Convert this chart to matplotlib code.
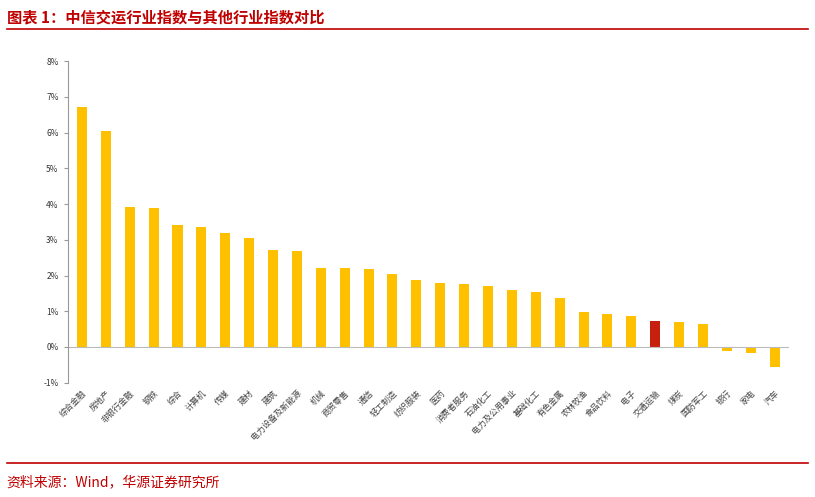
import matplotlib
matplotlib.use("Agg")
import matplotlib.pyplot as plt
from matplotlib.ticker import FuncFormatter

plt.rcParams['font.family'] = ['Noto Sans CJK SC', 'DejaVu Sans']

categories = ["综合金融","房地产","非银行金融","钢铁","综合","计算机","传媒","建材","建筑","电力设备及新能源",
              "机械","商贸零售","通信","轻工制造","纺织服装","医药","消费者服务","石油化工","电力及公用事业","基础化工",
              "有色金属","农林牧渔","食品饮料","电子","交通运输","煤炭","国防军工","银行","家电","汽车"]
values = [6.72,6.05,3.93,3.90,3.42,3.37,3.20,3.06,2.70,2.68,
          2.22,2.20,2.18,2.05,1.87,1.80,1.77,1.70,1.60,1.55,
          1.38,0.98,0.92,0.88,0.72,0.70,0.65,-0.12,-0.18,-0.55]
highlight = "交通运输"

fig = plt.figure(figsize=(8.15,4.97), dpi=100)
ax = fig.add_axes([0.083, 0.23, 0.885, 0.647])
colors = ['#C8200E' if c == highlight else '#FFC000' for c in categories]
x = range(len(categories))
ax.bar(x, values, width=0.42, color=colors)
ax.set_ylim(-1, 8)
ax.set_xlim(-0.6, len(categories)-0.4)
ax.set_yticks(range(-1, 9))
ax.yaxis.set_major_formatter(FuncFormatter(lambda v, p: f"{int(v)}%"))
ax.tick_params(axis='y', labelsize=6, color='#999999', length=3, labelcolor='#333333')
ax.set_xticks(list(x))
ax.set_xticklabels(categories, rotation=45, ha='right', rotation_mode='anchor', fontsize=6, color='#444444')
ax.tick_params(axis='x', length=0, pad=4)
for s in ['top','right','bottom']:
    ax.spines[s].set_visible(False)
ax.spines['left'].set_color('#999999')
ax.axhline(0, color='#BBBBBB', lw=0.8)

fig.text(0.008, 0.965, "图表 1：中信交运行业指数与其他行业指数对比", fontsize=11, fontweight='bold', color='#C00000', va='center')
fig.add_artist(plt.Line2D([0.008, 0.992], [0.942, 0.942], color='#C00000', lw=1.2))
fig.add_artist(plt.Line2D([0.008, 0.992], [0.068, 0.068], color='#C00000', lw=1.2))
fig.text(0.008, 0.03, "资料来源：Wind，华源证券研究所", fontsize=10, color='#C00000', va='center')

fig.savefig("out.png", dpi=100)
